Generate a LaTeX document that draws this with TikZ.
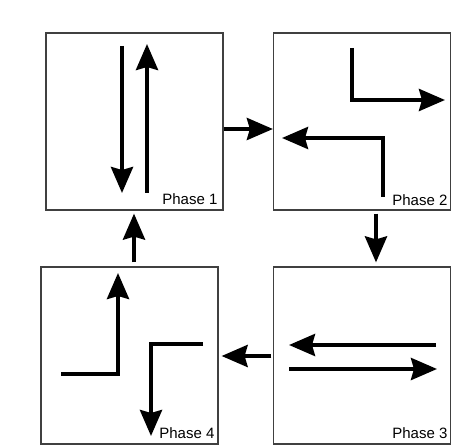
\documentclass[tikz,border=0pt]{standalone}
\usepackage{fontspec}
\setmainfont{Liberation Sans}
\usetikzlibrary{arrows.meta}
\begin{document}
\begin{tikzpicture}[x=1pt,y=1pt,
  phasebox/.style={draw=black!75,line width=1.2pt,rectangle,minimum width=177pt,minimum height=177pt,inner sep=0pt},
  phaselabel/.style={anchor=base east,inner sep=0pt,font=\fontsize{15}{18}\selectfont},
  flow/.style={line width=4pt,-{Stealth[length=26pt,width=22pt,inset=3pt]}},
  conn/.style={line width=4pt,-{Stealth[length=26pt,width=22pt,inset=3pt]}}]
\useasboundingbox (0,0) rectangle (452,445);

% the four phase boxes
\node[phasebox] (p1) at (134.5,323.5) {};
\node[phasebox] (p2) at (362,323.5) {};
\node[phasebox] (p3) at (362,89.5) {};
\node[phasebox] (p4) at (129.5,89.5) {};

% labels in the lower right corners
\node[phaselabel] (l1) at ([xshift=-6pt,yshift=6pt]p1.south east) {Phase 1};
\node[phaselabel] (l2) at ([xshift=-3.5pt,yshift=5.5pt]p2.south east) {Phase 2};
\node[phaselabel] (l3) at ([xshift=-3.5pt,yshift=6pt]p3.south east) {Phase 3};
\node[phaselabel] (l4) at ([xshift=-4pt,yshift=6pt]p4.south east) {Phase 4};

% movements inside each phase
\draw[flow] (122,399) -- (122,252);
\draw[flow] (147,252) -- (147,401);

\draw[flow] (352,397) -- (352,345) -- (445,345);
\draw[flow] (383,248) -- (383,307) -- (282,307);

\draw[flow] (436,100) -- (289,100);
\draw[flow] (289,76) -- (437,76);

\draw[flow] (61,71) -- (118,71) -- (118,172);
\draw[flow] (203,101) -- (151,101) -- (151,9);

% cycle between the phases
\draw[conn] ([yshift=-7.5pt]p1.east) -- ([yshift=-7.5pt]p2.west);
\draw[conn,shorten <=3pt,shorten >=4pt] ([xshift=14pt]p2.south) -- ([xshift=14pt]p3.north);
\draw[conn,shorten <=1.5pt,shorten >=3pt] ([yshift=-0.5pt]p3.west) -- ([yshift=-0.5pt]p4.east);
\draw[conn,shorten <=4pt,shorten >=3pt] ([xshift=4.5pt]p4.north) -- ([xshift=-0.5pt]p1.south);
\end{tikzpicture}
\end{document}
